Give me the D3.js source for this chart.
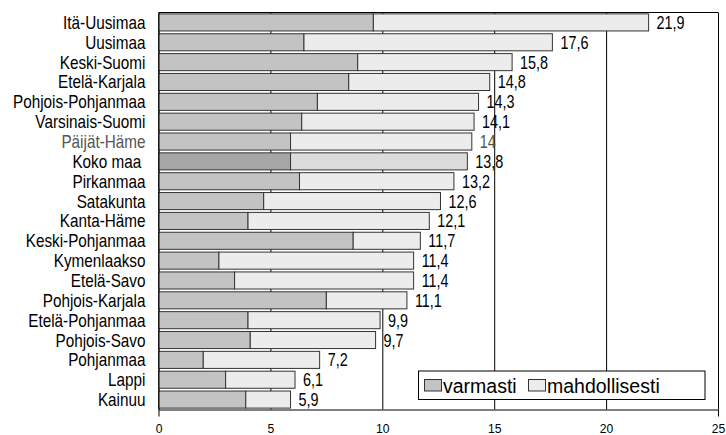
<!DOCTYPE html>
<html>
<head>
<meta charset="utf-8">
<script src="https://cdn.jsdelivr.net/npm/d3@7"></script>
<style>
  body { margin: 0; background: #fff; }
  svg text { font-family: "Liberation Sans", Arial, sans-serif; }
</style>
</head>
<body>
<div id="kuvio"></div>
<script>
// Alueet (ylhäältä alas)
const alueet = [
  'Itä-Uusimaa', 'Uusimaa', 'Keski-Suomi', 'Etelä-Karjala', 'Pohjois-Pohjanmaa',
  'Varsinais-Suomi', 'Päijät-Häme', 'Koko maa', 'Pirkanmaa', 'Satakunta',
  'Kanta-Häme', 'Keski-Pohjanmaa', 'Kymenlaakso', 'Etelä-Savo', 'Pohjois-Karjala',
  'Etelä-Pohjanmaa', 'Pohjois-Savo', 'Pohjanmaa', 'Lappi', 'Kainuu'
];

// varmasti-osuus (luettu kuvasta)
const varmasti = [9.6, 6.5, 8.9, 8.5, 7.1, 6.4, 5.9, 5.9, 6.3, 4.7,
                  4.0, 8.7, 2.7, 3.4, 7.5, 4.0, 4.1, 2.0, 3.0, 3.9];

// yhteensä (varmasti + mahdollisesti), palkkien päässä olevat luvut
const yhteensa = [21.9, 17.6, 15.8, 14.8, 14.3, 14.1, 14, 13.8, 13.2, 12.6,
                  12.1, 11.7, 11.4, 11.4, 11.1, 9.9, 9.7, 7.2, 6.1, 5.9];

const xTicks = [0, 5, 10, 15, 20, 25];
const sarjat = ['varmasti', 'mahdollisesti'];

// Värit
const varit = { varmasti: '#c3c3c3', mahdollisesti: '#ececec' };
const varitKoko = { varmasti: '#a6a6a6', mahdollisesti: '#dcdcdc' };

const W = 726, H = 435;
const m = { left: 158.5, right: 718, top: 12.5, bottom: 409.5 };

// kapea fontti puuttuu -> puristetaan vaakasuunnassa
const kapea = 0.85;

const svg = d3.select('#kuvio').append('svg')
  .attr('width', W)
  .attr('height', H);

const x = d3.scaleLinear().domain([0, 25]).range([m.left, m.right]);
const y = d3.scaleBand().domain(alueet).range([m.top, m.bottom])
  .paddingInner(0.14).paddingOuter(0.07);

// ala-akseli + pystyviivat
const xAxis = svg.append('g')
  .attr('transform', `translate(0, ${m.bottom})`)
  .call(d3.axisBottom(x).tickValues(xTicks)
    .tickSizeInner(-(m.bottom - m.top)).tickSizeOuter(7).tickPadding(12)
    .tickFormat(d => d));
xAxis.selectAll('path, line').attr('stroke', '#000').attr('stroke-width', 1);
xAxis.selectAll('text')
  .attr('fill', '#000')
  .attr('y', 0).attr('dy', null)
  .attr('transform', 'translate(0, 23) scale(0.9, 1)')
  .style('font-size', '13.5px');

// yläreuna
svg.append('line')
  .attr('x1', x(0)).attr('x2', x(25))
  .attr('y1', m.top).attr('y2', m.top)
  .attr('stroke', '#000');

// palkit
const rivit = svg.append('g').selectAll('g')
  .data(alueet)
  .join('g')
  .attr('transform', d => `translate(0, ${y(d)})`);

rivit.append('rect')
  .attr('x', x(0))
  .attr('width', (d, i) => x(varmasti[i]) - x(0))
  .attr('height', y.bandwidth())
  .attr('fill', d => d === 'Koko maa' ? varitKoko.varmasti : varit.varmasti)
  .attr('stroke', '#333');

rivit.append('rect')
  .attr('x', (d, i) => x(varmasti[i]))
  .attr('width', (d, i) => x(yhteensa[i]) - x(varmasti[i]))
  .attr('height', y.bandwidth())
  .attr('fill', d => d === 'Koko maa' ? varitKoko.mahdollisesti : varit.mahdollisesti)
  .attr('stroke', '#333');

// arvot palkkien perään
rivit.append('text')
  .attr('transform', (d, i) => `translate(${x(yhteensa[i]) + 8}, ${y.bandwidth() / 2 + 6.5}) scale(0.8, 1)`)
  .attr('fill', d => d === 'Päijät-Häme' ? '#555' : '#000')
  .style('font-size', '18px')
  .text((d, i) => String(yhteensa[i]).replace('.', ','));

// vasen akseli ja nimet
const yAxis = svg.append('g')
  .attr('transform', `translate(${m.left}, 0)`)
  .call(d3.axisLeft(y).tickSize(0)
    .tickFormat(d => d === 'Koko maa' ? 'Koko maa\u00a0' : d));
yAxis.select('.domain').attr('stroke', '#000');
yAxis.selectAll('text')
  .attr('x', 0).attr('dy', null).attr('y', 0)
  .attr('transform', `translate(-13, 6.5) scale(${kapea}, 1)`)
  .attr('fill', d => d === 'Päijät-Häme' ? '#555' : '#000')
  .style('font-size', '18px');

// selite
const selite = svg.append('g');
selite.append('rect')
  .attr('x', 418.5).attr('y', 371)
  .attr('width', 286.5).attr('height', 28.5)
  .attr('fill', '#fff').attr('stroke', '#000');

const seliteX = [424, 528];
sarjat.forEach((s, i) => {
  selite.append('rect')
    .attr('x', seliteX[i] + 0.5).attr('y', 379.5)
    .attr('width', 17).attr('height', 11.5)
    .attr('fill', varit[s]).attr('stroke', '#333');
  selite.append('text')
    .attr('x', seliteX[i] + 19).attr('y', 392.5)
    .style('font-size', '19.5px')
    .attr('fill', '#000')
    .text(s);
});
</script>
</body>
</html>
